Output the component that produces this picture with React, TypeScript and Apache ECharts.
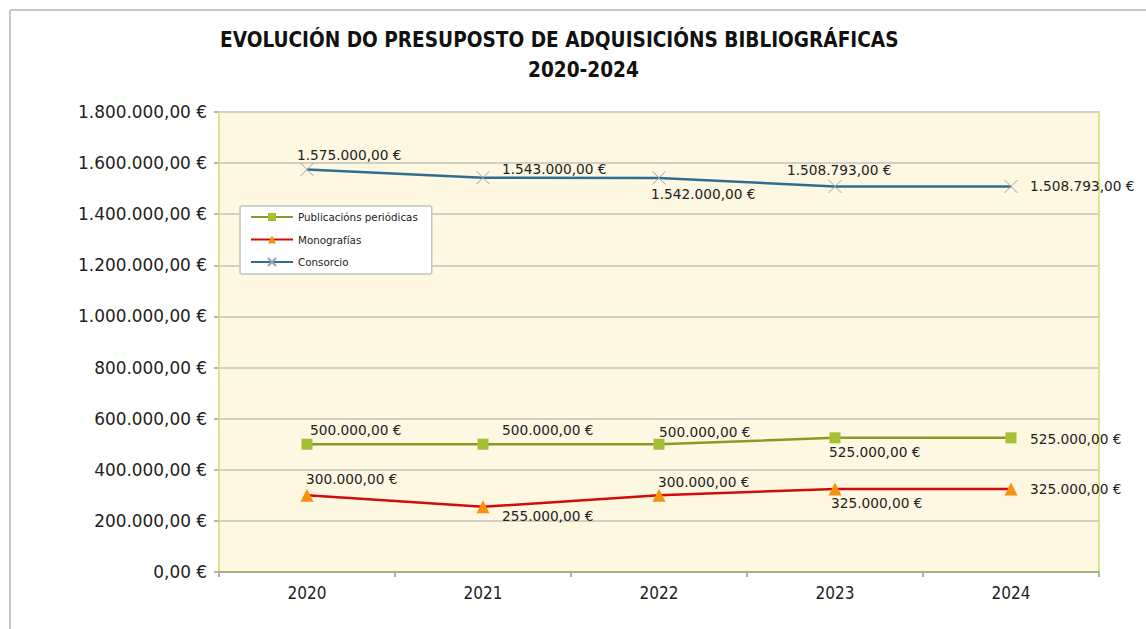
import React, { useEffect, useRef } from "react";
import * as echarts from "echarts";

const years = ["2020", "2021", "2022", "2023", "2024"];
const publicaciones = [500000, 500000, 500000, 525000, 525000];
const monografias = [300000, 255000, 300000, 325000, 325000];
const consorcio = [1575000, 1543000, 1542000, 1508793, 1508793];
const yTicks = [0, 200000, 400000, 600000, 800000, 1000000, 1200000, 1400000, 1600000, 1800000];

// label offsets (dx, dy) from each point
const pubOffsets = [[3, -14], [19, -14], [0, -12], [-6, 14], [19, 1]];
const monoOffsets = [[-1, -16], [19, 9], [-1, -13], [-4, 14], [19, 0]];
const consOffsets = [[-10, -15], [19, -9], [-8, 16], [-48, -16], [19, 0]];

const fmt = (v: number) => {
  const s = Math.round(v).toString().replace(/\B(?=(\d{3})+(?!\d))/g, ".");
  return s + ",00 €";
};

const labelFont = { fontFamily: "DejaVu Sans", fontSize: 13.7, color: "#222" };

function buildData(values: number[], offsets: number[][]) {
  return values.map((v, i) => ({
    value: v,
    label: {
      show: true,
      position: "inside",
      align: "left",
      verticalAlign: "middle",
      offset: offsets[i],
      formatter: () => fmt(v),
      ...labelFont,
    },
  }));
}

export default function App() {
  const ref = useRef<HTMLDivElement>(null);
  useEffect(() => {
    if (!ref.current) return;
    const chart = echarts.init(ref.current, undefined, { renderer: "svg" });
    chart.setOption({
      animation: false,
      backgroundColor: "#ffffff",
      title: [
        {
          text: "EVOLUCIÓN DO PRESUPOSTO DE ADQUISICIÓNS BIBLIOGRÁFICAS",
          left: 215,
          top: 24,
          textStyle: { fontFamily: "DejaVu Sans Condensed, DejaVu Sans", fontWeight: "bold", fontSize: 20.6, color: "#111" },
        },
        {
          text: "2020-2024",
          left: 523,
          top: 54,
          textStyle: { fontFamily: "DejaVu Sans Condensed, DejaVu Sans", fontWeight: "bold", fontSize: 20.6, color: "#111" },
        },
      ],
      graphic: [
        { type: "line", shape: { x1: 10, y1: 10, x2: 1146, y2: 10 }, style: { stroke: "#c8c8c8", lineWidth: 2 } },
        { type: "line", shape: { x1: 10, y1: 10, x2: 10, y2: 629 }, style: { stroke: "#c8c8c8", lineWidth: 2 } },
      ],
      legend: {
        orient: "vertical",
        left: 240,
        top: 206,
        padding: [6, 14, 7, 10],
        itemGap: 12.5,
        itemWidth: 42,
        itemHeight: 10,
        backgroundColor: "#ffffff",
        borderColor: "#c4c4c4",
        borderWidth: 1.5,
        borderRadius: 2,
        textStyle: { fontFamily: "DejaVu Sans", fontSize: 10.3, color: "#222" },
        data: ["Publicacións periódicas", "Monografías", "Consorcio"],
      },
      grid: {
        left: 219,
        right: 47,
        top: 112,
        bottom: 57,
        show: true,
        backgroundColor: "#fef7e1",
        borderColor: "#dbe58e",
        borderWidth: 2,
      },
      xAxis: {
        type: "category",
        data: years,
        boundaryGap: true,
        axisLine: { lineStyle: { color: "#a9b07a", width: 2 } },
        axisTick: { show: true, length: 5, lineStyle: { color: "#b0b0b0", width: 2 } },
        axisLabel: { fontFamily: "DejaVu Sans Condensed, DejaVu Sans", fontSize: 17, color: "#222", margin: 12 },
      },
      yAxis: {
        type: "value",
        min: yTicks[0],
        max: yTicks[yTicks.length - 1],
        interval: 200000,
        axisLine: { show: true, lineStyle: { color: "#dbe58e", width: 2 } },
        axisTick: { show: true, length: 5, lineStyle: { color: "#b8b8b8", width: 2 } },
        axisLabel: { fontFamily: "DejaVu Sans", fontSize: 16.9, color: "#222", margin: 12, formatter: (v: number) => fmt(v) },
        splitLine: { show: true, lineStyle: { color: "#d3cfc4", width: 2 } },
      },
      series: [
        {
          name: "Publicacións periódicas",
          type: "line",
          data: buildData(publicaciones, pubOffsets),
          symbol: "rect",
          symbolSize: 11,
          lineStyle: { color: "#8a9a22", width: 2.5 },
          itemStyle: { color: "#a5be35" },
          z: 3,
        },
        {
          name: "Monografías",
          type: "line",
          data: buildData(monografias, monoOffsets),
          symbol: "triangle",
          symbolSize: 13,
          lineStyle: { color: "#d10a0a", width: 2.5 },
          itemStyle: { color: "#f7920a" },
          z: 3,
        },
        {
          name: "Consorcio",
          type: "line",
          data: buildData(consorcio, consOffsets),
          symbol: "path://M0,0L10,10M10,0L0,10",
          symbolSize: 13,
          lineStyle: { color: "#2f6d90", width: 2.5 },
          itemStyle: { color: "transparent", borderColor: "#9aa3aa", borderWidth: 1 },
          z: 3,
        },
      ],
    });
    return () => chart.dispose();
  }, []);
  return <div ref={ref} style={{ position: "fixed", left: 0, top: 0, width: 1146, height: 629 }} />;
}
